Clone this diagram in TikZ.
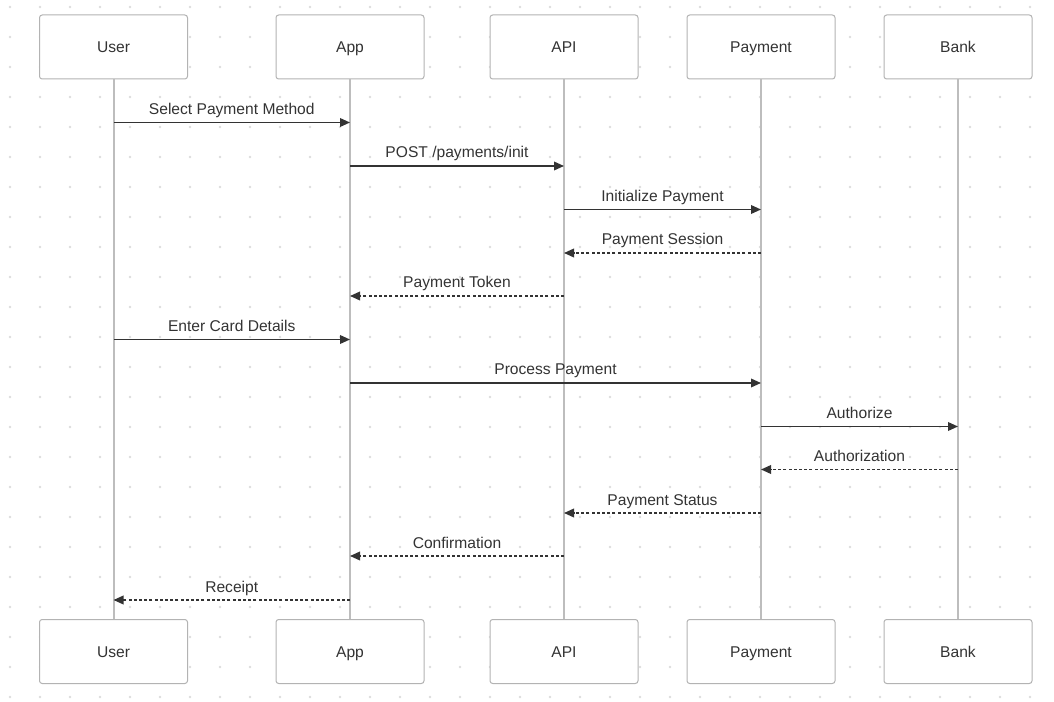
\documentclass[tikz,border=0pt]{standalone}
\usepackage{fontspec}
\setmainfont{Liberation Sans}
\usetikzlibrary{arrows.meta}
\definecolor{ink}{HTML}{333333}
\definecolor{rim}{HTML}{B3B3B3}
\definecolor{life}{HTML}{BDBDBD}
\definecolor{grid}{HTML}{DCDCDC}
\tikzset{
	actor/.style={draw=rim, line width=0.75pt, fill=white, rounded corners=2pt,
		minimum width=111pt, minimum height=48pt, text=ink,
		text height=8.5pt, text depth=0pt,
		font=\fontsize{11.7pt}{14pt}\selectfont},
	lifeline/.style={draw=life, line width=1.5pt},
	call/.style={draw=ink, line width=1.1pt, -{Triangle[length=7.5pt,width=6.5pt]}},
	reply/.style={call, dash pattern=on 2.3pt off 1.6pt},
	tag/.style={text=ink, anchor=base, yshift=6pt, font=\fontsize{11.7pt}{14pt}\selectfont}
}
\newcommand{\msg}[5] % from, to, y in px, label, style
{
	\draw[#5] (#1 |- 0,#3) -- node[tag] {#4} (#2 |- 0,#3);
}

\begin{document}
\begin{tikzpicture}[x=0.75pt, y=-0.75pt]
	% 1054px x 702px, origin top left
	\useasboundingbox (0,0) rectangle (1054,702);
	% dotted background
	\foreach \i in {0,...,34}
		\foreach \j in {0,...,23}
			\fill[grid] ({10+30*\i},{7+30*\j}) circle (1pt);
	
	% participants, top and bottom
	\node[actor] (usertop) at (113.5,47) {User};
	\node[actor] (apptop) at (350,47) {App};
	\node[actor] (apitop) at (564,47) {API};
	\node[actor] (paytop) at (761,47) {Payment};
	\node[actor] (banktop) at (958,47) {Bank};
	
	\node[actor] (userbot) at (113.5,651.5) {User};
	\node[actor] (appbot) at (350,651.5) {App};
	\node[actor] (apibot) at (564,651.5) {API};
	\node[actor] (paybot) at (761,651.5) {Payment};
	\node[actor] (bankbot) at (958,651.5) {Bank};
	
	% lifelines
	\draw[lifeline] (usertop) -- (userbot);
	\draw[lifeline] (apptop) -- (appbot);
	\draw[lifeline] (apitop) -- (apibot);
	\draw[lifeline] (paytop) -- (paybot);
	\draw[lifeline] (banktop) -- (bankbot);
	
	% messages
	\msg{usertop}{apptop}{122.5}{Select Payment Method}{call};
	\msg{apptop}{apitop}{166}{POST /payments/init}{call};
	\msg{apitop}{paytop}{209.5}{Initialize Payment}{call};
	\msg{paytop}{apitop}{253}{Payment Session}{reply};
	\msg{apitop}{apptop}{296}{Payment Token}{reply};
	\msg{usertop}{apptop}{339.5}{Enter Card Details}{call};
	\msg{apptop}{paytop}{383}{Process Payment}{call};
	\msg{paytop}{banktop}{426.5}{Authorize}{call};
	\msg{banktop}{paytop}{469.5}{Authorization}{reply};
	\msg{paytop}{apitop}{513}{Payment Status}{reply};
	\msg{apitop}{apptop}{556}{Confirmation}{reply};
	\msg{apptop}{usertop}{600}{Receipt}{reply};
	
\end{tikzpicture}
\end{document}
